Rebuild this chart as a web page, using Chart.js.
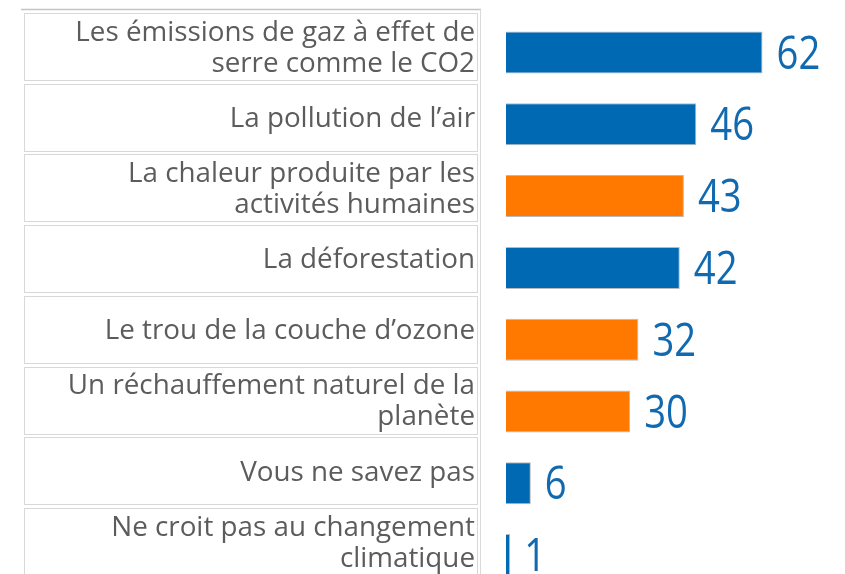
<!DOCTYPE html>
<html>
<head>
<meta charset="utf-8">
<script src="https://cdn.jsdelivr.net/npm/chart.js@4.4.1/dist/chart.umd.min.js"></script>
<style>
    html, body { margin: 0; padding: 0; background: #fff; overflow: hidden; }
    #wrap { position: relative; width: 845px; height: 600px; }
</style>
</head>
<body>
<div id="wrap"><canvas id="causes"></canvas></div>
<script>
// Causes du changement climatique, % des réponses
var categories = [
    ["Les émissions de gaz à effet de", "serre comme le CO2"],
    ["La pollution de l’air"],
    ["La chaleur produite par les", "activités humaines"],
    ["La déforestation"],
    ["Le trou de la couche d’ozone"],
    ["Un réchauffement naturel de la", "planète"],
    ["Vous ne savez pas"],
    ["Ne croit pas au changement", "climatique"]
];
var values = [62, 46, 43, 42, 32, 30, 6, 1];
// "vrai" = cause réelle, "faux" = idée reçue
var kinds = ["vrai", "vrai", "faux", "vrai", "faux", "faux", "vrai", "vrai"];

var palette = { vrai: "#0069b4", faux: "#ff7900" };
var valueColor = "#1169b0";
var labelColor = "#5c5c5c";

// cadres gris autour des libellés + texte des libellés
var labelBoxes = {
    id: "labelBoxes",
    beforeDatasetsDraw: function(chart) {
        var ctx = chart.ctx;
        var yScale = chart.scales.y;
        var pitch = (yScale.bottom - yScale.top) / categories.length;
        var boxPitch = pitch * 0.985;
        var boxH = boxPitch - 3.7;
        var right = chart.chartArea.left - 29;
        var left = 24;
        var c0 = yScale.getPixelForValue(0) - 6;

        ctx.save();
        // filet du haut et filet vertical de droite
        ctx.strokeStyle = "#c4c4c4";
        ctx.lineWidth = 1.5;
        ctx.beginPath();
        ctx.moveTo(21, c0 - boxH / 2 - 3.5);
        ctx.lineTo(right + 4, c0 - boxH / 2 - 3.5);
        ctx.stroke();
        ctx.strokeStyle = "#dadada";
        ctx.lineWidth = 1;
        ctx.beginPath();
        ctx.moveTo(right + 3.5, c0 - boxH / 2 - 3.5);
        ctx.lineTo(right + 3.5, chart.height);
        ctx.stroke();

        ctx.font = '27.8px "Open Sans"';
        ctx.textAlign = "right";
        ctx.textBaseline = "alphabetic";
        var capH = 19.5;
        var lineH = 31;
        for (var i = 0; i < categories.length; i++) {
            var cy = c0 + i * boxPitch;
            ctx.strokeStyle = "#d8d8d8";
            ctx.lineWidth = 1;
            ctx.strokeRect(left + 0.5, Math.round(cy - boxH / 2) + 0.5, right - left, Math.round(boxH));

            var lines = categories[i];
            ctx.fillStyle = labelColor;
            for (var k = 0; k < lines.length; k++) {
                var base = cy + capH / 2 - (lines.length - 1) * lineH / 2 + k * lineH;
                ctx.fillText(lines[k], right - 2, base);
            }
        }
        ctx.restore();
    }
};

// valeurs à droite des barres, chiffres condensés
var valueLabels = {
    id: "valueLabels",
    afterDatasetsDraw: function(chart) {
        var ctx = chart.ctx;
        var meta = chart.getDatasetMeta(0);
        ctx.save();
        ctx.font = '45px "Open Sans"';
        ctx.fillStyle = valueColor;
        ctx.textAlign = "left";
        ctx.textBaseline = "alphabetic";
        meta.data.forEach(function(bar, i) {
            ctx.save();
            ctx.translate(bar.x + 14, bar.y + 16);
            ctx.scale(0.85, 1);
            ctx.fillText(String(values[i]), 0, 0);
            ctx.restore();
        });
        ctx.restore();
    }
};

new Chart(document.getElementById("causes"), {
    type: "bar",
    data: {
        labels: categories,
        datasets: [{
            data: values,
            backgroundColor: kinds.map(function(k) { return palette[k]; }),
            borderColor: "rgba(140, 140, 140, 0.6)",
            borderWidth: 1,
            barPercentage: 0.585,
            categoryPercentage: 1
        }]
    },
    options: {
        indexAxis: "y",
        responsive: true,
        maintainAspectRatio: false,
        animation: false,
        layout: {
            padding: { left: 506, right: 8, top: 16.6, bottom: 9 }
        },
        plugins: {
            legend: { display: false },
            tooltip: { enabled: false }
        },
        scales: {
            x: { display: false, min: 0, max: 80 },
            y: { display: false }
        }
    },
    plugins: [labelBoxes, valueLabels]
});
</script>
</body>
</html>
